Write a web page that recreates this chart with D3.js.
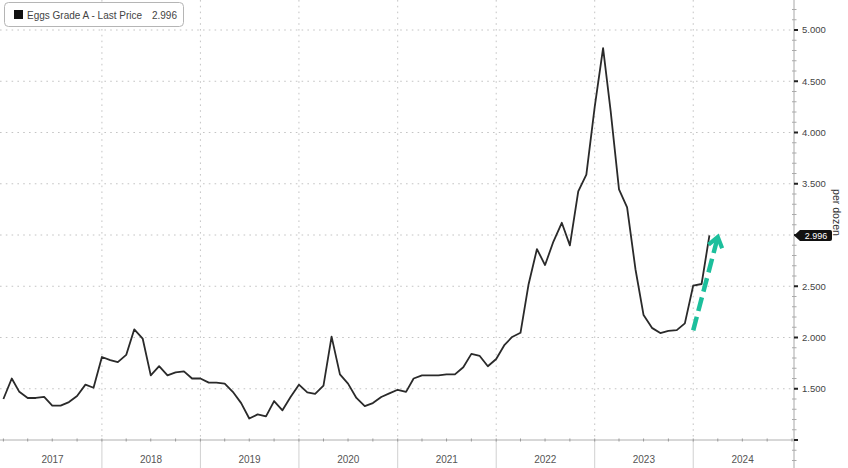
<!DOCTYPE html>
<html>
<head>
<meta charset="utf-8">
<script src="https://cdn.jsdelivr.net/npm/d3@7"></script>
<style>
  html, body { margin: 0; padding: 0; background: #fff; }
  svg { display: block; font-family: "Liberation Sans", Arial, sans-serif; }
</style>
</head>
<body>
<svg id="chart" width="848" height="468"></svg>
<script>
// ---- data (monthly average price, plotted at month end) ----
const months = [
  "2016-12",
  "2017-01","2017-02","2017-03","2017-04","2017-05","2017-06","2017-07","2017-08","2017-09","2017-10","2017-11","2017-12",
  "2018-01","2018-02","2018-03","2018-04","2018-05","2018-06","2018-07","2018-08","2018-09","2018-10","2018-11","2018-12",
  "2019-01","2019-02","2019-03","2019-04","2019-05","2019-06","2019-07","2019-08","2019-09","2019-10","2019-11","2019-12",
  "2020-01","2020-02","2020-03","2020-04","2020-05","2020-06","2020-07","2020-08","2020-09","2020-10","2020-11","2020-12",
  "2021-01","2021-02","2021-03","2021-04","2021-05","2021-06","2021-07","2021-08","2021-09","2021-10","2021-11","2021-12",
  "2022-01","2022-02","2022-03","2022-04","2022-05","2022-06","2022-07","2022-08","2022-09","2022-10","2022-11","2022-12",
  "2023-01","2023-02","2023-03","2023-04","2023-05","2023-06","2023-07","2023-08","2023-09","2023-10","2023-11","2023-12",
  "2024-01","2024-02"
];
const prices = [
  1.40,
  1.60, 1.47, 1.41, 1.41, 1.42, 1.335, 1.335, 1.37, 1.43, 1.54, 1.51, 1.81,
  1.78, 1.76, 1.83, 2.08, 1.99, 1.63, 1.72, 1.63, 1.66, 1.67, 1.60, 1.60,
  1.56, 1.56, 1.55, 1.47, 1.36, 1.21, 1.25, 1.23, 1.38, 1.29, 1.42, 1.54,
  1.465, 1.45, 1.53, 2.009, 1.64, 1.55, 1.41, 1.33, 1.36, 1.42, 1.455, 1.49,
  1.47, 1.60, 1.63, 1.63, 1.63, 1.64, 1.64, 1.71, 1.84, 1.82, 1.72, 1.79,
  1.929, 2.005, 2.046, 2.520, 2.863, 2.707, 2.936, 3.119, 2.899, 3.425, 3.589, 4.250,
  4.823, 4.211, 3.446, 3.270, 2.666, 2.219, 2.094, 2.043, 2.065, 2.072, 2.138, 2.507,
  2.522, 2.996
];
const yearLabels = ["2017","2018","2019","2020","2021","2022","2023","2024"];
const yTicks = [1.5, 2.0, 2.5, 3.5, 4.0, 4.5, 5.0];
const lastPrice = 2.996;
const legendText = "Eggs Grade A - Last Price";
const unitLabel = "per dozen";
// annotation arrow: from / to (month, value)
const arrowFrom = ["2023-12", 2.07];
const arrowTo = ["2024-03", 2.98];

// ---- layout ----
const W = 848, H = 468;
const axisX = 794, axisY = 440;
const parse = d3.timeParse("%Y-%m");
const monthEnd = s => d3.timeMonth.offset(parse(s), 1);

const x = d3.scaleTime()
  .domain([new Date(2017, 0, 1), new Date(2025, 0, 1)])
  .range([3.4, 792]);
const y = d3.scaleLinear().domain([1, 5]).range([axisY, 30]);

const svg = d3.select("#chart");
const data = months.map((m, i) => ({ date: monthEnd(m), v: prices[i] }));

// horizontal dotted gridlines
svg.append("g").selectAll("line")
  .data(d3.range(1.5, 5.01, 0.5))
  .join("line")
  .attr("x1", 0).attr("x2", axisX)
  .attr("y1", d => y(d)).attr("y2", d => y(d))
  .attr("stroke", "#c4c4c4").attr("stroke-width", 1)
  .attr("stroke-dasharray", "1.6,4.2");

// vertical dotted year gridlines + solid separators below axis
const yearStarts = d3.range(2018, 2025).map(yr => new Date(yr, 0, 1));
svg.append("g").selectAll("line")
  .data(yearStarts)
  .join("line")
  .attr("x1", d => x(d)).attr("x2", d => x(d))
  .attr("y1", 0).attr("y2", axisY)
  .attr("stroke", "#c4c4c4").attr("stroke-width", 1)
  .attr("stroke-dasharray", "1.6,4.2");
svg.append("g").selectAll("line")
  .data(yearStarts)
  .join("line")
  .attr("x1", d => x(d)).attr("x2", d => x(d))
  .attr("y1", axisY).attr("y2", H)
  .attr("stroke", "#d0d0d0").attr("stroke-width", 1);

// x axis line with quarterly ticks
svg.append("line")
  .attr("x1", 0).attr("x2", axisX).attr("y1", axisY).attr("y2", axisY)
  .attr("stroke", "#b0b0b0").attr("stroke-width", 1);
const qTicks = d3.timeMonth.every(3).range(new Date(2017, 0, 1), new Date(2025, 0, 2));
svg.append("g").selectAll("line")
  .data(qTicks)
  .join("line")
  .attr("x1", d => x(d)).attr("x2", d => x(d))
  .attr("y1", axisY - 1.5).attr("y2", axisY + 1.5)
  .attr("stroke", "#999").attr("stroke-width", 1);

// year labels
svg.append("g").selectAll("text")
  .data(yearLabels)
  .join("text")
  .attr("x", d => x(new Date(+d, 6, 2)))
  .attr("y", 463)
  .attr("text-anchor", "middle")
  .attr("font-size", 10)
  .attr("fill", "#555")
  .text(d => d);

// y axis
svg.append("line")
  .attr("x1", axisX).attr("x2", axisX).attr("y1", 0).attr("y2", H)
  .attr("stroke", "#a8a8a8").attr("stroke-width", 1);
svg.append("g").selectAll("line")
  .data(d3.range(0.6, 5.41, 0.1).filter(v => Math.abs(v * 2 - Math.round(v * 2)) > 0.01))
  .join("line")
  .attr("x1", axisX - 2).attr("x2", axisX + 2.5)
  .attr("y1", d => y(d)).attr("y2", d => y(d))
  .attr("stroke", "#aaa").attr("stroke-width", 1);
svg.append("g").selectAll("rect")
  .data(d3.range(1.0, 5.01, 0.5))
  .join("rect")
  .attr("x", axisX).attr("y", d => y(d) - 1)
  .attr("width", 4).attr("height", 2)
  .attr("fill", "#222");
svg.append("g").selectAll("text")
  .data(yTicks)
  .join("text")
  .attr("x", 802)
  .attr("y", d => y(d))
  .attr("dy", "0.35em")
  .attr("font-size", 9.5)
  .attr("fill", "#444")
  .text(d => d3.format(".3f")(d));

// unit label
svg.append("text")
  .attr("transform", `translate(837,${y(3.22)}) rotate(90)`)
  .attr("text-anchor", "middle")
  .attr("dy", "0.35em")
  .attr("font-size", 10.5)
  .attr("fill", "#333")
  .text(unitLabel);

// price line
svg.append("path")
  .datum(data)
  .attr("fill", "none")
  .attr("stroke", "#2a2a2a")
  .attr("stroke-width", 1.8)
  .attr("stroke-linejoin", "round")
  .attr("d", d3.line().x(d => x(d.date)).y(d => y(d.v)));

// last price tag
const ly = y(lastPrice);
svg.append("path")
  .attr("d", `M${axisX},${ly} L${axisX + 6},${ly - 5.5} L${axisX + 36},${ly - 5.5} Q${axisX + 38},${ly - 5.5} ${axisX + 38},${ly - 3.5} L${axisX + 38},${ly + 3.5} Q${axisX + 38},${ly + 5.5} ${axisX + 36},${ly + 5.5} L${axisX + 6},${ly + 5.5} Z`)
  .attr("fill", "#111");
svg.append("text")
  .attr("x", axisX + 22).attr("y", ly)
  .attr("dy", "0.35em")
  .attr("text-anchor", "middle")
  .attr("font-size", 9)
  .attr("fill", "#fff")
  .text(d3.format(".3f")(lastPrice));

// annotation arrow
const ax1 = x(monthEnd(arrowFrom[0])), ay1 = y(arrowFrom[1]);
const ax2 = x(monthEnd(arrowTo[0])), ay2 = y(arrowTo[1]);
const ang = Math.atan2(ay2 - ay1, ax2 - ax1);
const teal = "#1cbf9c";
const shaftEndX = ax2 - Math.cos(ang) * 3, shaftEndY = ay2 - Math.sin(ang) * 3;
svg.append("line")
  .attr("x1", ax1).attr("y1", ay1).attr("x2", shaftEndX).attr("y2", shaftEndY)
  .attr("stroke", teal).attr("stroke-width", 4.5)
  .attr("stroke-dasharray", "14,6");
const hl = 12, ha = Math.PI * 0.8;
svg.append("path")
  .attr("d", `M${ax2 + Math.cos(ang + ha) * hl},${ay2 + Math.sin(ang + ha) * hl} L${ax2},${ay2} L${ax2 + Math.cos(ang - ha) * hl},${ay2 + Math.sin(ang - ha) * hl}`)
  .attr("fill", "none").attr("stroke", teal).attr("stroke-width", 4.2)
  .attr("stroke-linejoin", "miter");

// legend
const lg = svg.append("g");
lg.append("rect")
  .attr("x", 4.5).attr("y", 2.5).attr("width", 179).attr("height", 24)
  .attr("rx", 4).attr("fill", "#fff").attr("stroke", "#b5b5b5").attr("stroke-width", 1);
lg.append("rect").attr("x", 14).attr("y", 10).attr("width", 9).attr("height", 9).attr("fill", "#111");
lg.append("text").attr("x", 27).attr("y", 18.5).attr("font-size", 10).attr("fill", "#444")
  .text(legendText);
lg.append("text").attr("x", 177).attr("y", 18.5).attr("font-size", 10).attr("fill", "#444")
  .attr("text-anchor", "end")
  .text(d3.format(".3f")(lastPrice));
</script>
</body>
</html>
